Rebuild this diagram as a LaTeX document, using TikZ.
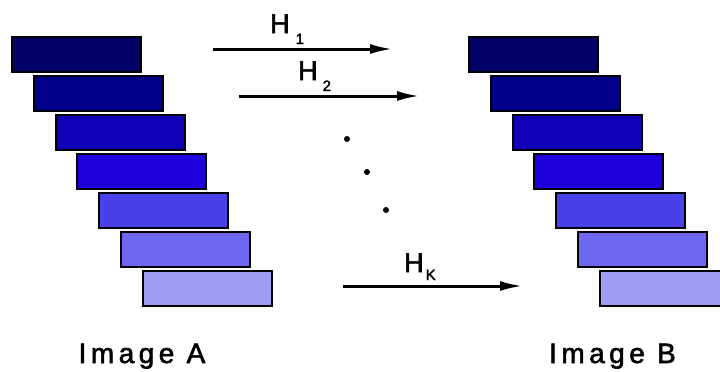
\documentclass[tikz,border=0pt]{standalone}
\usepackage{fontspec}
\setmainfont{Liberation Sans}
\usetikzlibrary{arrows.meta}
\definecolor{c1}{HTML}{000066}
\definecolor{c2}{HTML}{000088}
\definecolor{c3}{HTML}{1100B8}
\definecolor{c4}{HTML}{1E00DC}
\definecolor{c5}{HTML}{4840E8}
\definecolor{c6}{HTML}{6E68F0}
\definecolor{c7}{HTML}{A09AF0}
\newcommand{\hsub}[2]{\hspace{#1}\raisebox{-11pt}{\fontsize{15}{15}\selectfont\addfontfeatures{FakeBold=2} #2}}
\tikzset{
  slab/.style={draw=black, line width=2pt, minimum width=129pt, minimum height=35pt, inner sep=0pt},
  maparrow/.style={line width=3pt, -{Latex[length=23pt,width=10pt]}},
  hlabel/.style={font=\fontsize{27}{27}\selectfont\addfontfeatures{FakeBold=2}, inner sep=0pt, anchor=base west},
  caption/.style={font=\fontsize{28}{28}\selectfont\addfontfeatures{LetterSpace=16,FakeBold=2}, inner sep=0pt, anchor=base},
  dot/.style={circle, fill=black, inner sep=0pt, minimum size=6pt}
}
\begin{document}
\begin{tikzpicture}[x=1pt,y=-1pt]
\useasboundingbox (0,0) rectangle (720,372);
\foreach \i in {1,...,7} {
  \node[slab, fill=c\i] (a\i) at ({76.5+21.75*(\i-1)},{54.5+39*(\i-1)}) {};
  \node[slab, fill=c\i] (b\i) at ({533.5+21.75*(\i-1)},{54.5+39*(\i-1)}) {};
}
\coordinate (s1) at (213,49);  \coordinate (e1) at (393,49);
\coordinate (s2) at (239,96);  \coordinate (e2) at (420,96);
\coordinate (sk) at (343,286); \coordinate (ek) at (523,286);
\draw[maparrow] (s1) -- (e1);
\draw[maparrow] (s2) -- (e2);
\draw[maparrow] (sk) -- (ek);
\node[hlabel] (h1) at (270,33) {H\hsub{6pt}{1}};
\node[hlabel] (h2) at (298,80) {H\hsub{5pt}{2}};
\node[hlabel] (hk) at (404,272) {H\hsub{2pt}{\raisebox{3pt}{K}}};
\node[dot] (d1) at (347,139) {};
\node[dot] (d2) at (367,172) {};
\node[dot] (d3) at (386,210) {};
\node[caption] (ia) at (142,363) {Image A};
\node[caption] (ib) at (612.5,363) {Image B};
\end{tikzpicture}
\end{document}
